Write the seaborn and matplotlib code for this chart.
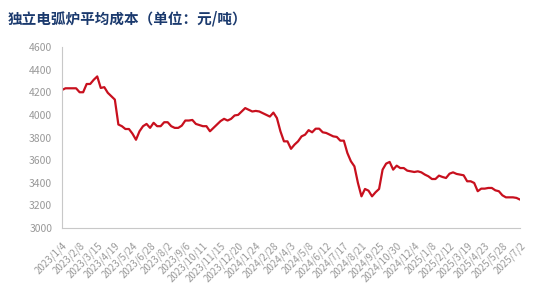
import numpy as np
import pandas as pd
import matplotlib
matplotlib.use("Agg")
import matplotlib.pyplot as plt
import seaborn as sns

title = "独立电弧炉平均成本（单位：元/吨）"
start_date = "2023-01-04"
cost = [4220, 4235, 4235, 4235, 4235, 4200, 4200, 4273, 4273, 4310,
        4340, 4238, 4245, 4195, 4165, 4135, 3915, 3900, 3875, 3875,
        3834, 3780, 3855, 3900, 3920, 3885, 3930, 3900, 3900, 3935,
        3935, 3900, 3885, 3885, 3905, 3950, 3950, 3955, 3920, 3910,
        3900, 3900, 3855, 3885, 3915, 3945, 3965, 3950, 3965, 3995,
        4000, 4030, 4060, 4045, 4030, 4035, 4030, 4015, 4000, 3985,
        4020, 3972, 3855, 3766, 3766, 3700, 3737, 3766, 3810, 3825,
        3865, 3846, 3878, 3878, 3846, 3840, 3825, 3810, 3805, 3772,
        3772, 3663, 3590, 3545, 3398, 3280, 3345, 3330, 3280, 3316,
        3345, 3516, 3569, 3584, 3516, 3551, 3530, 3530, 3507, 3501,
        3495, 3501, 3492, 3472, 3457, 3433, 3433, 3463, 3451, 3442,
        3480, 3492, 3478, 3472, 3466, 3413, 3413, 3398, 3325, 3348,
        3348, 3354, 3354, 3333, 3325, 3289, 3271, 3271, 3271, 3266,
        3251]
y_ticks = [3000, 3200, 3400, 3600, 3800, 4000, 4200, 4400, 4600]

dates = pd.date_range(start_date, periods=len(cost), freq="7D")
df = pd.DataFrame({"date": dates, "cost": cost})

sns.set_theme(style="white")
plt.rcParams['font.family'] = ['Noto Sans CJK SC', 'DejaVu Sans']

fig = plt.figure(figsize=(5.5, 3.06), dpi=100)
ax = fig.add_axes([62/550, 1-228/306, (520-62)/550, (228-47)/306])

sns.lineplot(data=df, x="date", y="cost", ax=ax, color="#C8101E", linewidth=1.6)

ax.set_xlim(dates[0], dates[-1])
ax.set_ylim(3000, 4600)
ax.set_yticks(y_ticks)
ax.set_yticklabels([str(v) for v in y_ticks])
xt = dates[::5]
ax.set_xticks(xt)
ax.set_xticklabels([f"{d.year}/{d.month}/{d.day}" for d in xt], rotation=45,
                   ha="right", rotation_mode="anchor")
ax.set_xlabel("")
ax.set_ylabel("")

for s in ["top", "right"]:
    ax.spines[s].set_visible(False)
for s in ["left", "bottom"]:
    ax.spines[s].set_color("#C8C8C8")
    ax.spines[s].set_linewidth(0.8)
ax.tick_params(axis="both", colors="#C8C8C8", length=4, width=0.8,
               labelcolor="#999999", labelsize=7.5, direction="out")
ax.tick_params(axis="x", labelsize=7, pad=5)
ax.tick_params(axis="y", pad=3)
ax.grid(False)

fig.text(8/550, 1-18/306, title, fontsize=10.5, fontweight="bold",
         color="#1B3A6E", va="center", ha="left")

fig.savefig("out.png", dpi=100, facecolor="white")
